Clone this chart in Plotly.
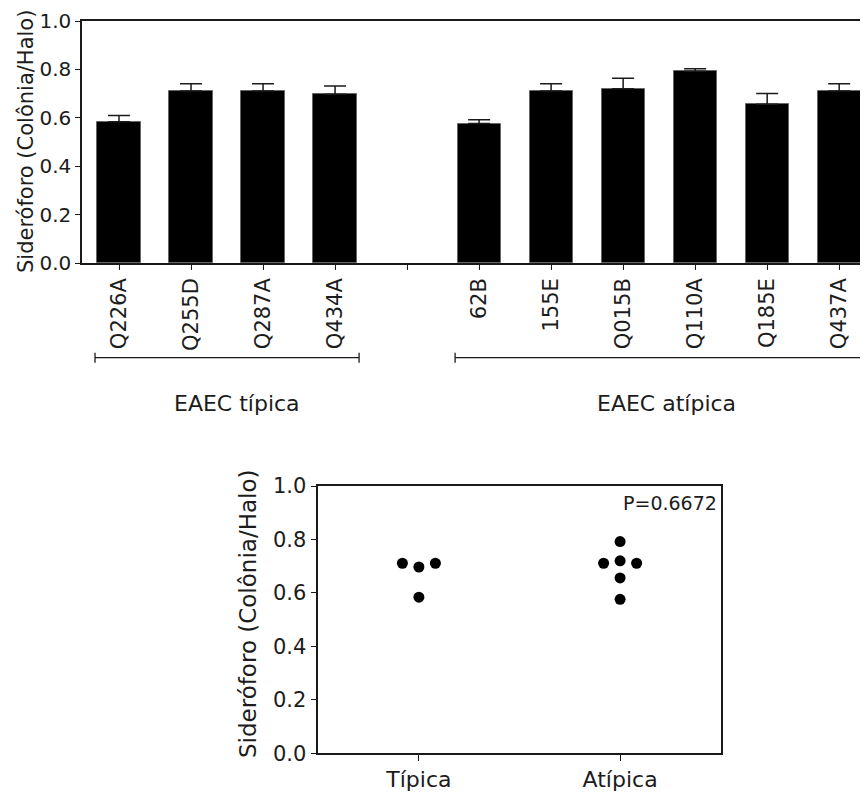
import numpy as np
import plotly.graph_objects as go

# ---- data ----
typ_names = ["Q226A", "Q255D", "Q287A", "Q434A"]
typ_vals = [0.584, 0.711, 0.711, 0.697]
typ_err = [0.025, 0.030, 0.030, 0.034]

atp_names = ["62B", "155E", "Q015B", "Q110A", "Q185E", "Q437A"]
atp_vals = [0.576, 0.711, 0.720, 0.792, 0.656, 0.711]
atp_err = [0.016, 0.030, 0.043, 0.011, 0.044, 0.030]

group_labels = ["EAEC típica", "EAEC atípica"]
dot_categories = ["Típica", "Atípica"]
y_ticks = [0.0, 0.2, 0.4, 0.6, 0.8, 1.0]
y_title = "Sideróforo (Colônia/Halo)"
p_text = "P=0.6672"

FONT = "DejaVu Sans"
PAGE_W, PAGE_H = 868, 794
OFF = 8  # default page body margin
W, H = PAGE_W - OFF, PAGE_H - OFF
AX = "#1a1a1a"

# positions: typical at 0..n-1, a gap slot, then atypical
typ_x = list(range(len(typ_names)))
gap = len(typ_names)
atp_x = [gap + 1 + i for i in range(len(atp_names))]
all_ticks = typ_x + [gap] + atp_x
all_text = typ_names + [""] + atp_names

fig = go.Figure()

for xs, vals, errs in [(typ_x, typ_vals, typ_err), (atp_x, atp_vals, atp_err)]:
    fig.add_trace(go.Bar(
        x=xs, y=vals, width=0.6,
        marker=dict(color="black", line=dict(color="#666", width=1)),
        error_y=dict(type="data", symmetric=False, array=errs,
                     arrayminus=[0] * len(errs), color=AX, thickness=1.5, width=11),
        xaxis="x", yaxis="y", showlegend=False,
    ))

# beeswarm-like offsets for dot plot: equal values spread symmetrically
d = 0.082
def swarm(vals, center):
    xs = [0.0] * len(vals)
    groups = {}
    for i, v in enumerate(vals):
        groups.setdefault(round(v, 3), []).append(i)
    for v, idx in groups.items():
        k = len(idx)
        for j, i in enumerate(idx):
            xs[i] = center + (j - (k - 1) / 2) * 2 * d
    return xs

for ci, vals in enumerate([typ_vals, atp_vals]):
    fig.add_trace(go.Scatter(
        x=swarm(vals, ci), y=vals, mode="markers",
        marker=dict(color="black", size=11),
        xaxis="x2", yaxis="y2", showlegend=False,
    ))

def py(p):
    return 1 - (p - OFF) / H

def px_(p):
    return (p - OFF) / W

common = dict(showgrid=False, zeroline=False, automargin=False,
              ticks="outside", tickwidth=1.3, tickcolor=AX,
              showline=True, linecolor=AX, linewidth=1.5)

fig.update_layout(
    width=W, height=H,
    margin=dict(l=0, r=0, t=0, b=0, pad=0),
    paper_bgcolor="white", plot_bgcolor="white",
    font=dict(family=FONT, color="#1c1c1c", size=18),
    bargap=0,
    xaxis=dict(domain=[px_(82), 1], range=[-0.514, 10.40],
               tickvals=all_ticks, ticktext=all_text, tickangle=-90,
               ticklen=5, mirror=True, tickfont=dict(size=21),
               anchor="y", **common),
    yaxis=dict(domain=[py(263), py(21)], range=[0, 1],
               tickvals=y_ticks, tickformat=".1f",
               ticklen=5, tickfont=dict(size=20),
               anchor="x", **common),
    xaxis2=dict(domain=[px_(318.3), px_(720.7)], range=[-0.5, 1.5],
                tickvals=[0, 1], ticktext=dot_categories,
                ticklen=6, mirror=True, tickfont=dict(size=22),
                anchor="y2", **common),
    yaxis2=dict(domain=[py(753.3), py(486)], range=[0, 1],
                tickvals=y_ticks, tickformat=".1f",
                ticklen=6, mirror=True, tickfont=dict(size=21),
                anchor="x2", **common),
)

ann = [
    dict(text=y_title, x=px_(26), y=py(142), textangle=-90, font=dict(size=21)),
    dict(text=y_title, x=px_(248), y=py(614), textangle=-90, font=dict(size=23)),
    dict(text=p_text, x=px_(719), y=py(503), xanchor="right", font=dict(size=19)),
]
group_ranges = [(typ_x[0], typ_x[-1]), (atp_x[0], atp_x[-1])]
label_px = [237, 666]
shapes = []
cap = 5 / H
for lab, (a, b), lx in zip(group_labels, group_ranges, label_px):
    x0, x1 = a - 1 / 3, b + 1 / 3
    yb = py(357.7)
    shapes.append(dict(type="line", xref="x", yref="paper", x0=x0, x1=x1, y0=yb, y1=yb,
                       line=dict(color=AX, width=1.3)))
    for xe in (x0, x1):
        shapes.append(dict(type="line", xref="x", yref="paper", x0=xe, x1=xe,
                           y0=yb - cap, y1=yb + cap, line=dict(color=AX, width=1.3)))
    ann.append(dict(text=lab, x=px_(lx), y=py(403), font=dict(size=22)))

for a in ann:
    a.setdefault("xref", "paper")
    a["yref"] = "paper"
    a["showarrow"] = False
    a.setdefault("xanchor", "center")
    a["yanchor"] = "middle"
fig.update_layout(annotations=ann, shapes=shapes)

fig.write_html("out.html")
